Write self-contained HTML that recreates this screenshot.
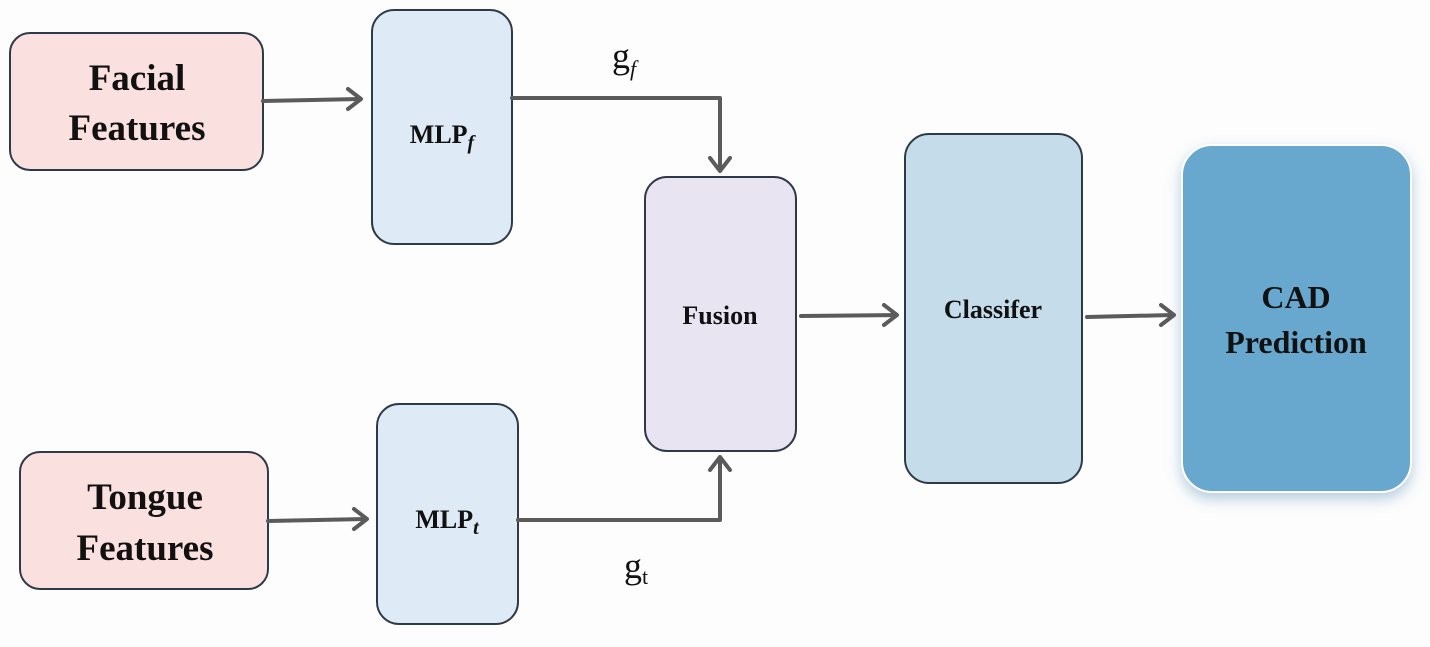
<!DOCTYPE html>
<html><head><meta charset="utf-8"><style>html,body{margin:0;padding:0;background:#fff}svg{display:block}</style></head>
<body>
<svg width="1430" height="647" viewBox="0 0 1430 647" xmlns="http://www.w3.org/2000/svg" font-family="Liberation Serif, serif">
<defs>
<marker id="a" markerWidth="10" markerHeight="10" refX="7" refY="5" orient="auto" markerUnits="userSpaceOnUse">
</marker>
<filter id="sh" x="-20%" y="-20%" width="140%" height="140%"><feDropShadow dx="0" dy="6" stdDeviation="7" flood-color="#5a8fb8" flood-opacity="0.45"/></filter>
</defs>
<rect width="1430" height="647" fill="#fdfdfd"/>
<g stroke="#2f3a48" stroke-width="2">
<rect x="10" y="33" width="253" height="137" rx="20" fill="#fae0df"/>
<rect x="372" y="10" width="140" height="234" rx="22" fill="#deeaf5"/>
<rect x="20" y="452" width="248" height="137" rx="20" fill="#fae0df"/>
<rect x="377" y="404" width="141" height="220" rx="22" fill="#deeaf5"/>
<rect x="645" y="177" width="151" height="274" rx="22" fill="#e8e4f2"/>
<rect x="905" y="134" width="177" height="349" rx="24" fill="#c5dcea"/>
</g>
<rect x="1182" y="145" width="229" height="347" rx="30" fill="#68a8cf" stroke="#ffffff" stroke-width="2" filter="url(#sh)"/>
<g stroke="#5b5b5b" stroke-width="4" fill="none" stroke-linecap="round" stroke-linejoin="round">
<path d="M263 101 L360 99"/><path d="M348 89 L361 99 L348 109"/>
<path d="M512 98 L720 98 L720 170"/><path d="M710 158 L720 171 L730 158"/>
<path d="M268 521 L366 519"/><path d="M354 509 L367 519 L354 529"/>
<path d="M518 520 L720 520 L720 458"/><path d="M710 470 L720 457 L730 470"/>
<path d="M801 316 L896 315"/><path d="M884 305 L897 315 L884 325"/>
<path d="M1087 317 L1173 315"/><path d="M1161 305 L1174 315 L1161 325"/>
</g>
<g font-weight="bold" fill="#111" text-anchor="middle">
<text x="137" y="90" font-size="37">Facial</text>
<text x="137" y="140" font-size="37">Features</text>
<text x="145" y="509" font-size="37">Tongue</text>
<text x="145" y="560" font-size="37">Features</text>
<text x="442" y="143" font-size="26">MLP<tspan font-style="italic" font-size="20" dy="6">f</tspan></text>
<text x="447" y="528" font-size="26">MLP<tspan font-style="italic" font-size="20" dy="6">t</tspan></text>
<text x="720" y="324" font-size="26">Fusion</text>
<text x="993" y="318" font-size="26">Classifer</text>
<text x="1296" y="308" font-size="32">CAD</text>
<text x="1296" y="353" font-size="32">Prediction</text>
</g>
<g fill="#111" font-size="36">
<text x="612" y="68">g<tspan font-style="italic" font-size="22" dy="8">f</tspan></text>
<text x="624" y="578">g<tspan font-size="22" dy="6">t</tspan></text>
</g>
</svg>
</body></html>
